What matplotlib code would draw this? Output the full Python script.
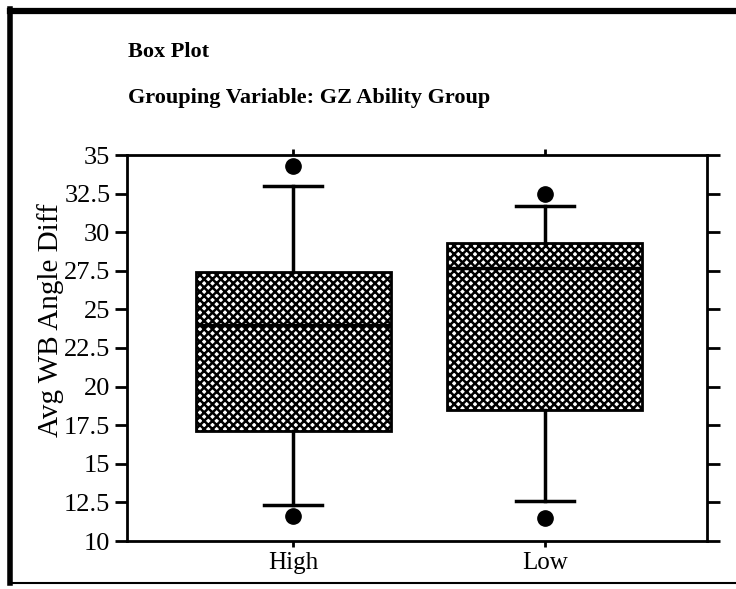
import numpy as np
import matplotlib
matplotlib.use("Agg")
import matplotlib.pyplot as plt
from matplotlib.lines import Line2D

# box plot summary values per group
groups = ["High", "Low"]
q1 = [17.1, 18.5]
medians = [24.0, 27.7]
q3 = [27.4, 29.3]
whisker_lo = [12.3, 12.6]
whisker_hi = [33.0, 31.7]
outliers = [[34.3, 11.6], [32.5, 11.5]]

yticks = [10, 12.5, 15, 17.5, 20, 22.5, 25, 27.5, 30, 32.5, 35]
ytick_labels = ["10", "12.5", "15", "17.5", "20", "22.5", "25", "27.5", "30", "32.5", "35"]

plt.rcParams["font.family"] = ["Liberation Serif", "DejaVu Serif"]
plt.rcParams["hatch.linewidth"] = 1.8
plt.rcParams["hatch.color"] = "black"

fig = plt.figure(figsize=(7.36, 5.89), dpi=100)
ax = fig.add_axes([127 / 736, 1 - 541 / 589, 580 / 736, 386 / 589])

stats = []
for i, g in enumerate(groups):
    stats.append({"label": g, "q1": q1[i], "med": medians[i], "q3": q3[i],
                  "whislo": whisker_lo[i], "whishi": whisker_hi[i],
                  "fliers": outliers[i]})

ax.bxp(stats, positions=[1, 2], widths=0.774, patch_artist=True,
       showfliers=True, showcaps=True,
       boxprops=dict(facecolor="white", edgecolor="black", linewidth=2.0, hatch="xxxx"),
       medianprops=dict(color="black", linewidth=2.5),
       whiskerprops=dict(color="black", linewidth=2.5),
       capprops=dict(color="black", linewidth=2.5),
       capwidths=0.23,
       flierprops=dict(marker="o", markerfacecolor="black", markeredgecolor="black",
                       markersize=11, linestyle="none"))

ax.set_xlim(0.341, 2.643)
ax.set_ylim(10, 35)
ax.set_yticks(yticks)
ax.set_yticklabels(ytick_labels)
ax.set_xticks([1, 2])
ax.set_xticklabels(groups)

for s in ax.spines.values():
    s.set_linewidth(2.0)

ax.tick_params(axis="y", which="both", direction="out", length=9, width=2,
               left=True, right=True, labelsize=19, pad=3)
ax.tick_params(axis="x", which="both", direction="out", length=4, width=2,
               top=True, bottom=True, labelsize=18, pad=4)

ax.set_ylabel("Avg WB Angle Diff", fontsize=21)
ax.yaxis.set_label_coords(-0.108, 0.573)

fig.text(128 / 736, 1 - 52 / 589, "Box Plot", fontsize=16, fontweight="bold",
         va="center", ha="left")
fig.text(128 / 736, 1 - 98 / 589, "Grouping Variable: GZ Ability Group", fontsize=16,
         fontweight="bold", va="center", ha="left")

# page frame: heavy top and left rules, thin bottom rule
fig.add_artist(Line2D([10 / 736, 1.0], [1 - 11 / 589, 1 - 11 / 589], color="black",
                      linewidth=4.5, transform=fig.transFigure))
fig.add_artist(Line2D([10 / 736, 10 / 736], [1 - 583 / 589, 1 - 9 / 589], color="black",
                      linewidth=4, transform=fig.transFigure))
fig.add_artist(Line2D([10 / 736, 1.0], [1 - 583 / 589, 1 - 583 / 589], color="black",
                      linewidth=1.5, transform=fig.transFigure))

fig.savefig("out.png", dpi=100)
